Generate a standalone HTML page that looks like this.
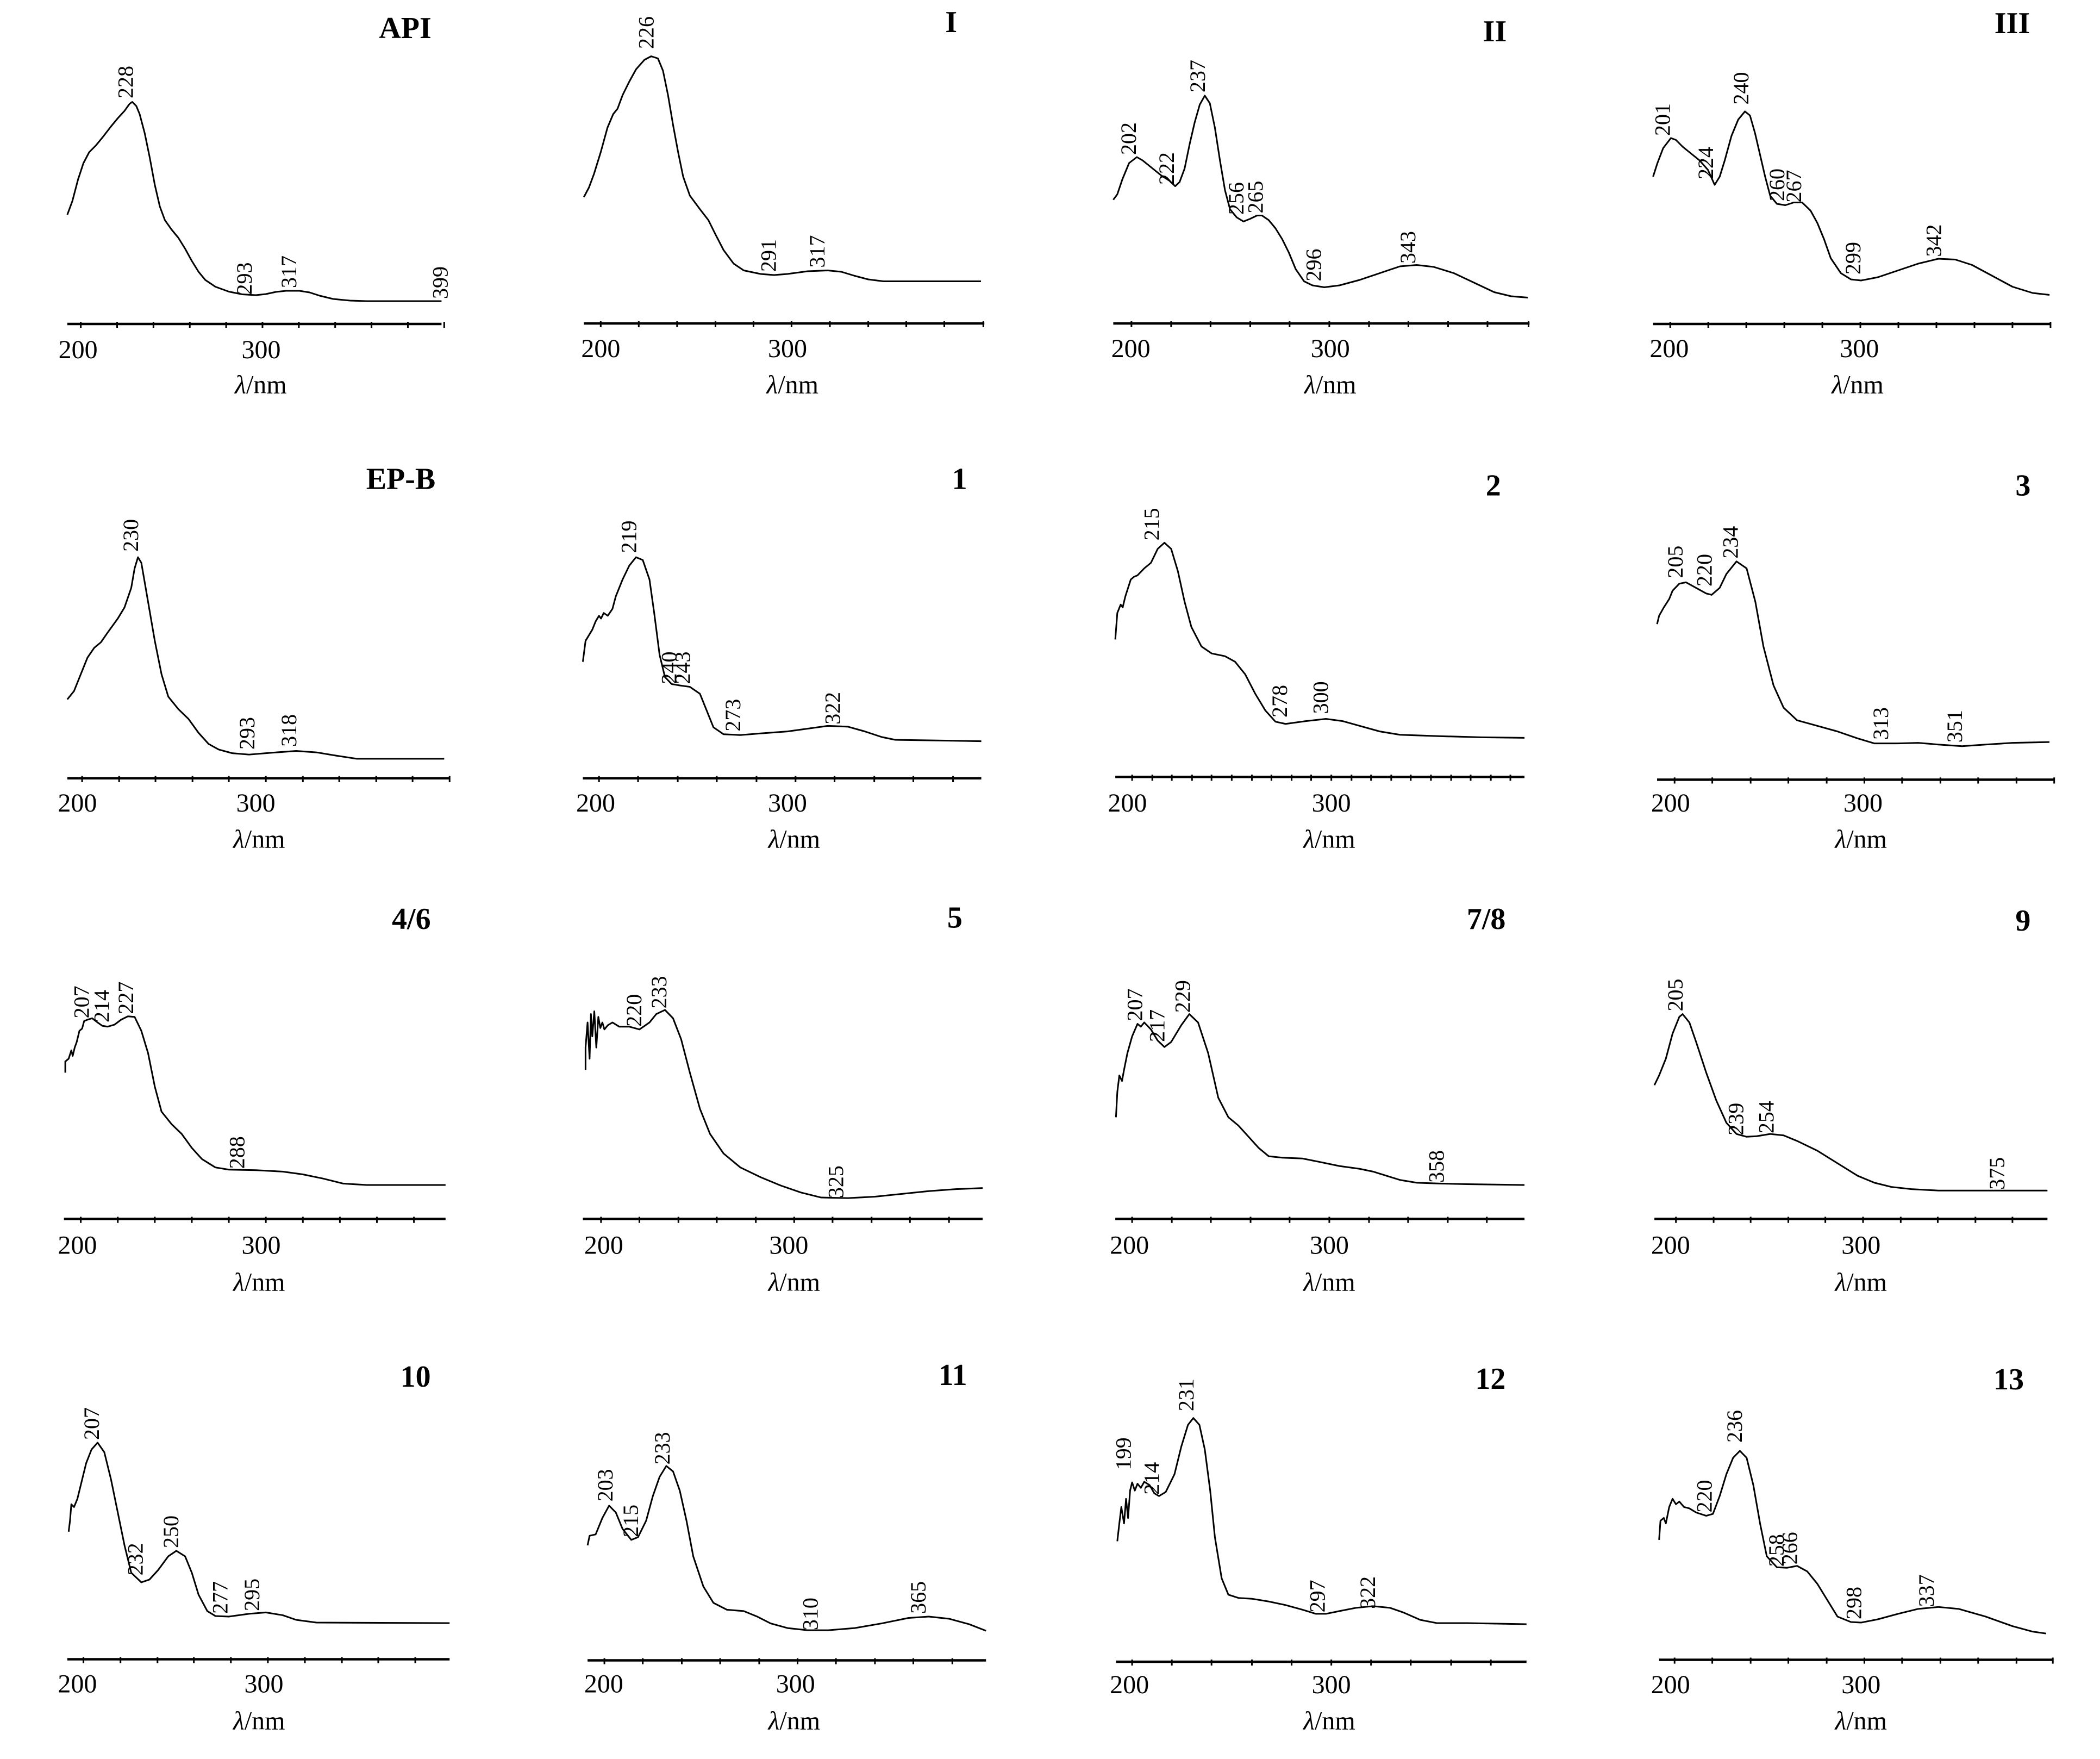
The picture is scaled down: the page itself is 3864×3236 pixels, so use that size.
<!DOCTYPE html>
<html><head><meta charset="utf-8"><style>
html,body{margin:0;padding:0;background:#fff;}
svg{display:block;}
.c{fill:none;stroke:#000;stroke-width:3;stroke-linejoin:round;vector-effect:non-scaling-stroke;}
.a{fill:none;stroke:#000;stroke-width:4.5;vector-effect:non-scaling-stroke;}
.k{fill:none;stroke:#000;stroke-width:3;vector-effect:non-scaling-stroke;}
.p{font-family:"Liberation Serif",serif;font-size:40px;fill:#000;}
.t{font-family:"Liberation Serif",serif;font-size:48px;fill:#000;text-anchor:middle;}
.h{font-family:"Liberation Serif",serif;font-size:56px;font-weight:bold;fill:#000;text-anchor:end;}
</style></head><body>
<svg width="3864" height="3236" viewBox="0 0 3864 3236" xmlns="http://www.w3.org/2000/svg">
<rect width="3864" height="3236" fill="#fff"/>

<!-- ROW 1 -->
<!-- API -->
<g transform="translate(0,0) scale(0.6192,0.5)">
<line class="a" x1="200" y1="1192" x2="1312" y2="1192"/>
<path class="k" d="M240,1184V1206M348,1184V1206M456,1184V1206M564,1184V1206M672,1184V1206M780,1184V1206M888,1184V1206M996,1184V1206M1104,1184V1206M1212,1184V1206M1320,1184V1206"/>
<polyline class="c" points="200,790 215,740 232,660 248,600 265,560 285,535 305,505 330,465 350,435 370,408 385,382 393,375 405,390 415,420 430,490 445,580 460,680 475,760 490,810 510,845 530,875 550,915 570,960 590,1000 610,1030 640,1055 680,1073 720,1083 760,1086 790,1082 820,1074 850,1070 890,1070 920,1076 950,1088 990,1100 1040,1106 1090,1108 1312,1108"/>
<text class="p" transform="translate(395,362) scale(1.615,2) rotate(-90)">228</text>
<text class="p" transform="translate(748,1085) scale(1.615,2) rotate(-90)">293</text>
<text class="p" transform="translate(880,1060) scale(1.615,2) rotate(-90)">317</text>
<text class="p" transform="translate(1330,1100) scale(1.615,2) rotate(-90)">399</text>
<text class="t" transform="translate(232,1318) scale(1.615,2)">200</text>
<text class="t" transform="translate(776,1318) scale(1.615,2)">300</text>
<text class="t" transform="translate(775,1447) scale(1.615,2)"><tspan font-style="italic">λ</tspan>/nm</text>
<text class="h" transform="translate(1282,140) scale(1.615,2)">API</text>
</g>

<!-- I -->
<g transform="translate(966,0) scale(0.6192,0.5)">
<line class="a" x1="175" y1="1190" x2="1365" y2="1190"/>
<path class="k" d="M225,1182V1204M338,1182V1204M452,1182V1204M566,1182V1204M679,1182V1204M792,1182V1204M906,1182V1204M1020,1182V1204M1133,1182V1204M1246,1182V1204M1362,1182V1204"/>
<polyline class="c" points="175,725 190,690 205,640 225,560 245,470 262,420 275,400 290,350 310,300 330,255 355,220 375,207 395,215 410,260 425,350 440,460 455,560 470,650 490,720 520,770 545,810 565,860 590,920 620,970 650,995 700,1008 740,1012 780,1008 840,998 900,995 940,1000 980,1015 1020,1028 1065,1035 1355,1035"/>
<text class="p" transform="translate(382,180) scale(1.615,2) rotate(-90)">226</text>
<text class="p" transform="translate(745,1000) scale(1.615,2) rotate(-90)">291</text>
<text class="p" transform="translate(890,985) scale(1.615,2) rotate(-90)">317</text>
<text class="t" transform="translate(225,1314) scale(1.615,2)">200</text>
<text class="t" transform="translate(780,1314) scale(1.615,2)">300</text>
<text class="t" transform="translate(795,1447) scale(1.615,2)"><tspan font-style="italic">λ</tspan>/nm</text>
<text class="h" transform="translate(1284,118) scale(1.615,2)">I</text>
</g>

<!-- II -->
<g transform="translate(1932,0) scale(0.6192,0.5)">
<line class="a" x1="188" y1="1190" x2="1425" y2="1190"/>
<path class="k" d="M242,1182V1204M360,1182V1204M477,1182V1204M595,1182V1204M712,1182V1204M830,1182V1204M948,1182V1204M1065,1182V1204M1183,1182V1204M1300,1182V1204M1422,1182V1204"/>
<polyline class="c" points="188,735 200,715 215,660 235,600 258,578 275,590 300,615 330,645 355,665 372,685 385,670 400,620 415,530 430,450 445,385 460,352 475,380 490,470 505,590 520,700 535,770 555,800 575,815 595,805 615,793 630,793 650,810 670,840 690,880 710,930 730,990 755,1035 780,1050 815,1057 860,1050 920,1030 980,1005 1040,980 1090,975 1140,982 1200,1005 1260,1040 1320,1075 1370,1090 1420,1095"/>
<text class="p" transform="translate(255,570) scale(1.615,2) rotate(-90)">202</text>
<text class="p" transform="translate(368,680) scale(1.615,2) rotate(-90)">222</text>
<text class="p" transform="translate(460,340) scale(1.615,2) rotate(-90)">237</text>
<text class="p" transform="translate(575,790) scale(1.615,2) rotate(-90)">256</text>
<text class="p" transform="translate(632,785) scale(1.615,2) rotate(-90)">265</text>
<text class="p" transform="translate(805,1035) scale(1.615,2) rotate(-90)">296</text>
<text class="p" transform="translate(1085,970) scale(1.615,2) rotate(-90)">343</text>
<text class="t" transform="translate(240,1314) scale(1.615,2)">200</text>
<text class="t" transform="translate(833,1314) scale(1.615,2)">300</text>
<text class="t" transform="translate(833,1447) scale(1.615,2)"><tspan font-style="italic">λ</tspan>/nm</text>
<text class="h" transform="translate(1357,152) scale(1.615,2)">II</text>
</g>

<!-- III -->
<g transform="translate(2898,0) scale(0.6192,0.5)">
<line class="a" x1="232" y1="1192" x2="1415" y2="1192"/>
<path class="k" d="M283,1184V1206M396,1184V1206M509,1184V1206M622,1184V1206M735,1184V1206M848,1184V1206M961,1184V1206M1074,1184V1206M1187,1184V1206M1300,1184V1206M1413,1184V1206"/>
<polyline class="c" points="232,650 245,600 262,545 285,508 300,515 320,540 345,565 370,590 395,625 415,680 430,650 445,590 465,500 485,440 505,410 520,425 535,490 550,570 565,650 580,720 600,750 625,755 650,745 675,745 700,775 720,820 740,880 760,950 790,1005 820,1028 850,1032 900,1020 960,995 1020,970 1080,952 1130,955 1180,975 1240,1015 1300,1055 1360,1078 1410,1085"/>
<text class="p" transform="translate(282,500) scale(1.615,2) rotate(-90)">201</text>
<text class="p" transform="translate(410,660) scale(1.615,2) rotate(-90)">224</text>
<text class="p" transform="translate(515,385) scale(1.615,2) rotate(-90)">240</text>
<text class="p" transform="translate(622,740) scale(1.615,2) rotate(-90)">260</text>
<text class="p" transform="translate(672,745) scale(1.615,2) rotate(-90)">267</text>
<text class="p" transform="translate(848,1010) scale(1.615,2) rotate(-90)">299</text>
<text class="p" transform="translate(1088,945) scale(1.615,2) rotate(-90)">342</text>
<text class="t" transform="translate(280,1314) scale(1.615,2)">200</text>
<text class="t" transform="translate(845,1314) scale(1.615,2)">300</text>
<text class="t" transform="translate(840,1447) scale(1.615,2)"><tspan font-style="italic">λ</tspan>/nm</text>
<text class="h" transform="translate(1352,122) scale(1.615,2)">III</text>
</g>

<!-- ROW 2 left -->
<g transform="translate(0,820) scale(1.2384,0.5128)">
<!-- EP-B -->
<line class="a" x1="100" y1="1193" x2="668" y2="1193"/>
<path class="k" d="M122,1185V1207M177,1185V1207M231,1185V1207M286,1185V1207M340,1185V1207M395,1185V1207M450,1185V1207M504,1185V1207M559,1185V1207M613,1185V1207M668,1185V1207"/>
<polyline class="c" points="100,910 110,880 120,820 130,760 140,725 150,705 160,670 175,620 185,580 195,510 200,440 205,400 210,420 220,560 230,700 240,820 250,900 265,945 280,980 295,1030 310,1070 325,1090 345,1103 370,1108 400,1102 440,1095 470,1100 500,1112 530,1123 660,1123"/>
<text class="p" transform="translate(205,380) scale(0.8075,1.95) rotate(-90)">230</text>
<text class="p" transform="translate(378,1090) scale(0.8075,1.95) rotate(-90)">293</text>
<text class="p" transform="translate(440,1080) scale(0.8075,1.95) rotate(-90)">318</text>
<text class="t" transform="translate(115,1312) scale(0.8075,1.95)">200</text>
<text class="t" transform="translate(380,1312) scale(0.8075,1.95)">300</text>
<text class="t" transform="translate(385,1442) scale(0.8075,1.95)"><tspan font-style="italic">λ</tspan>/nm</text>
<text class="h" transform="translate(647,155) scale(0.8075,1.95)">EP-B</text>

<!-- 1 -->
<line class="a" x1="866" y1="1193" x2="1458" y2="1193"/>
<path class="k" d="M890,1185V1207M948,1185V1207M1007,1185V1207M1065,1185V1207M1124,1185V1207M1182,1185V1207M1240,1185V1207M1299,1185V1207M1357,1185V1207M1416,1185V1207"/>
<polyline class="c" points="866,775 870,700 875,680 880,660 885,630 890,610 893,620 897,600 903,610 910,585 915,540 925,480 935,430 945,400 955,410 965,480 972,600 980,750 988,830 998,855 1010,860 1025,865 1040,890 1050,950 1060,1010 1075,1035 1100,1038 1130,1032 1170,1025 1200,1015 1230,1005 1260,1008 1285,1025 1310,1045 1330,1055 1380,1057 1458,1060"/>
<text class="p" transform="translate(945,385) scale(0.8075,1.95) rotate(-90)">219</text>
<text class="p" transform="translate(1005,855) scale(0.8075,1.95) rotate(-90)">240</text>
<text class="p" transform="translate(1025,855) scale(0.8075,1.95) rotate(-90)">243</text>
<text class="p" transform="translate(1100,1025) scale(0.8075,1.95) rotate(-90)">273</text>
<text class="p" transform="translate(1248,1000) scale(0.8075,1.95) rotate(-90)">322</text>
<text class="t" transform="translate(885,1312) scale(0.8075,1.95)">200</text>
<text class="t" transform="translate(1170,1312) scale(0.8075,1.95)">300</text>
<text class="t" transform="translate(1180,1442) scale(0.8075,1.95)"><tspan font-style="italic">λ</tspan>/nm</text>
<text class="h" transform="translate(1437,155) scale(0.8075,1.95)">1</text>
</g>

<!-- ROW 2 right -->
<g transform="translate(1932,820) scale(1.2384,0.5128)">
<!-- 2 -->
<line class="a" x1="97" y1="1188" x2="705" y2="1188"/>
<path class="k" d="M122,1180V1202M152,1180V1202M181,1180V1202M211,1180V1202M240,1180V1202M270,1180V1202M300,1180V1202M329,1180V1202M359,1180V1202M388,1180V1202M418,1180V1202M448,1180V1202M477,1180V1202M507,1180V1202M536,1180V1202M566,1180V1202M596,1180V1202M625,1180V1202M655,1180V1202M684,1180V1202"/>
<polyline class="c" points="97,695 100,600 105,570 108,580 112,540 120,480 125,470 130,465 140,440 150,420 160,370 170,348 180,370 190,450 200,560 210,650 225,720 240,745 260,755 275,775 290,820 305,890 320,950 335,990 350,998 380,988 410,980 435,988 460,1005 490,1025 520,1037 580,1042 640,1046 705,1048"/>
<text class="p" transform="translate(162,340) scale(0.8075,1.95) rotate(-90)">215</text>
<text class="p" transform="translate(352,975) scale(0.8075,1.95) rotate(-90)">278</text>
<text class="p" transform="translate(413,962) scale(0.8075,1.95) rotate(-90)">300</text>
<text class="t" transform="translate(115,1312) scale(0.8075,1.95)">200</text>
<text class="t" transform="translate(418,1312) scale(0.8075,1.95)">300</text>
<text class="t" transform="translate(415,1442) scale(0.8075,1.95)"><tspan font-style="italic">λ</tspan>/nm</text>
<text class="h" transform="translate(670,178) scale(0.8075,1.95)">2</text>

<!-- 3 -->
<line class="a" x1="902" y1="1198" x2="1492" y2="1198"/>
<path class="k" d="M928,1190V1212M984,1190V1212M1041,1190V1212M1097,1190V1212M1154,1190V1212M1210,1190V1212M1266,1190V1212M1323,1190V1212M1379,1190V1212M1436,1190V1212M1492,1190V1212"/>
<polyline class="c" points="902,640 905,610 912,580 920,550 925,520 935,495 945,490 960,510 975,530 983,535 995,510 1005,460 1020,415 1035,440 1048,560 1060,720 1075,860 1090,940 1110,985 1140,1005 1170,1025 1200,1050 1225,1068 1260,1068 1290,1066 1320,1072 1355,1078 1390,1072 1430,1066 1485,1063"/>
<text class="p" transform="translate(940,475) scale(0.8075,1.95) rotate(-90)">205</text>
<text class="p" transform="translate(983,505) scale(0.8075,1.95) rotate(-90)">220</text>
<text class="p" transform="translate(1022,405) scale(0.8075,1.95) rotate(-90)">234</text>
<text class="p" transform="translate(1245,1055) scale(0.8075,1.95) rotate(-90)">313</text>
<text class="p" transform="translate(1355,1065) scale(0.8075,1.95) rotate(-90)">351</text>
<text class="t" transform="translate(922,1312) scale(0.8075,1.95)">200</text>
<text class="t" transform="translate(1208,1312) scale(0.8075,1.95)">300</text>
<text class="t" transform="translate(1205,1442) scale(0.8075,1.95)"><tspan font-style="italic">λ</tspan>/nm</text>
<text class="h" transform="translate(1457,178) scale(0.8075,1.95)">3</text>
</g>

<!-- ROW 3 left -->
<g transform="translate(0,1640) scale(1.2384,0.5128)">
<!-- 4/6 -->
<line class="a" x1="95" y1="1175" x2="662" y2="1175"/>
<path class="k" d="M120,1167V1189M175,1167V1189M230,1167V1189M285,1167V1189M340,1167V1189M395,1167V1189M450,1167V1189M505,1167V1189M560,1167V1189M615,1167V1189"/>
<polyline class="c" points="97,650 97,610 102,600 106,570 108,590 111,560 114,540 118,500 122,492 125,465 130,460 137,455 145,470 152,482 160,485 170,478 180,460 190,448 200,450 210,500 220,580 230,700 240,790 255,835 270,870 285,920 300,960 320,990 340,998 380,1000 420,1005 450,1015 480,1030 510,1048 545,1053 662,1053"/>
<text class="p" transform="translate(132,455) scale(0.8075,1.95) rotate(-90)">207</text>
<text class="p" transform="translate(162,470) scale(0.8075,1.95) rotate(-90)">214</text>
<text class="p" transform="translate(198,440) scale(0.8075,1.95) rotate(-90)">227</text>
<text class="p" transform="translate(363,995) scale(0.8075,1.95) rotate(-90)">288</text>
<text class="t" transform="translate(115,1300) scale(0.8075,1.95)">200</text>
<text class="t" transform="translate(388,1300) scale(0.8075,1.95)">300</text>
<text class="t" transform="translate(385,1432) scale(0.8075,1.95)"><tspan font-style="italic">λ</tspan>/nm</text>
<text class="h" transform="translate(640,135) scale(0.8075,1.95)">4/6</text>

<!-- 5 -->
<line class="a" x1="866" y1="1175" x2="1460" y2="1175"/>
<path class="k" d="M893,1167V1189M950,1167V1189M1008,1167V1189M1065,1167V1189M1123,1167V1189M1180,1167V1189M1237,1167V1189M1295,1167V1189M1352,1167V1189M1410,1167V1189"/>
<polyline class="c" points="870,640 870,560 873,470 876,600 878,440 880,520 883,430 886,560 889,450 892,490 895,470 898,495 903,480 910,470 920,485 935,485 950,495 965,470 975,440 988,425 1000,455 1012,530 1025,650 1040,780 1055,870 1075,940 1100,990 1130,1025 1160,1055 1190,1080 1220,1098 1260,1100 1300,1095 1340,1085 1380,1075 1420,1068 1460,1064"/>
<text class="p" transform="translate(953,485) scale(0.8075,1.95) rotate(-90)">220</text>
<text class="p" transform="translate(990,420) scale(0.8075,1.95) rotate(-90)">233</text>
<text class="p" transform="translate(1253,1100) scale(0.8075,1.95) rotate(-90)">325</text>
<text class="t" transform="translate(897,1300) scale(0.8075,1.95)">200</text>
<text class="t" transform="translate(1172,1300) scale(0.8075,1.95)">300</text>
<text class="t" transform="translate(1180,1432) scale(0.8075,1.95)"><tspan font-style="italic">λ</tspan>/nm</text>
<text class="h" transform="translate(1430,130) scale(0.8075,1.95)">5</text>
</g>

<!-- ROW 3 right -->
<g transform="translate(1932,1640) scale(1.2384,0.5128)">
<!-- 7/8 -->
<line class="a" x1="97" y1="1175" x2="705" y2="1175"/>
<path class="k" d="M122,1167V1189M181,1167V1189M239,1167V1189M298,1167V1189M356,1167V1189M415,1167V1189M474,1167V1189M532,1167V1189M591,1167V1189M649,1167V1189"/>
<polyline class="c" points="98,810 100,720 103,660 107,680 110,640 115,580 122,520 130,475 135,485 140,470 150,495 160,535 170,558 180,540 195,480 207,440 220,470 235,580 250,740 265,810 280,840 295,880 310,920 325,950 345,955 375,958 400,970 430,985 460,995 480,1005 500,1020 520,1035 545,1045 580,1048 620,1050 705,1053"/>
<text class="p" transform="translate(137,465) scale(0.8075,1.95) rotate(-90)">207</text>
<text class="p" transform="translate(170,540) scale(0.8075,1.95) rotate(-90)">217</text>
<text class="p" transform="translate(208,435) scale(0.8075,1.95) rotate(-90)">229</text>
<text class="p" transform="translate(585,1045) scale(0.8075,1.95) rotate(-90)">358</text>
<text class="t" transform="translate(118,1300) scale(0.8075,1.95)">200</text>
<text class="t" transform="translate(415,1300) scale(0.8075,1.95)">300</text>
<text class="t" transform="translate(415,1432) scale(0.8075,1.95)"><tspan font-style="italic">λ</tspan>/nm</text>
<text class="h" transform="translate(677,135) scale(0.8075,1.95)">7/8</text>

<!-- 9 -->
<line class="a" x1="898" y1="1175" x2="1482" y2="1175"/>
<path class="k" d="M930,1167V1189M986,1167V1189M1041,1167V1189M1097,1167V1189M1152,1167V1189M1208,1167V1189M1264,1167V1189M1319,1167V1189M1375,1167V1189M1430,1167V1189"/>
<polyline class="c" points="898,695 905,660 915,600 925,510 935,450 940,440 950,470 960,540 975,650 990,750 1005,830 1020,870 1035,880 1050,878 1070,870 1090,875 1110,895 1140,930 1170,975 1200,1020 1225,1045 1250,1060 1280,1068 1320,1073 1400,1073 1482,1073"/>
<text class="p" transform="translate(940,430) scale(0.8075,1.95) rotate(-90)">205</text>
<text class="p" transform="translate(1030,875) scale(0.8075,1.95) rotate(-90)">239</text>
<text class="p" transform="translate(1075,868) scale(0.8075,1.95) rotate(-90)">254</text>
<text class="p" transform="translate(1418,1070) scale(0.8075,1.95) rotate(-90)">375</text>
<text class="t" transform="translate(922,1300) scale(0.8075,1.95)">200</text>
<text class="t" transform="translate(1205,1300) scale(0.8075,1.95)">300</text>
<text class="t" transform="translate(1205,1432) scale(0.8075,1.95)"><tspan font-style="italic">λ</tspan>/nm</text>
<text class="h" transform="translate(1457,140) scale(0.8075,1.95)">9</text>
</g>

<!-- ROW 4 left -->
<g transform="translate(0,2450) scale(1.2384,0.5038)">
<!-- 10 -->
<line class="a" x1="100" y1="1196" x2="668" y2="1196"/>
<path class="k" d="M124,1188V1210M179,1188V1210M234,1188V1210M288,1188V1210M343,1188V1210M398,1188V1210M453,1188V1210M508,1188V1210M562,1188V1210M617,1188V1210"/>
<polyline class="c" points="102,730 104,690 106,630 110,640 115,610 120,560 128,480 136,430 145,405 155,440 165,540 175,660 185,780 195,880 210,915 222,905 235,870 250,820 262,800 275,820 285,880 295,960 308,1020 320,1038 340,1040 370,1030 395,1025 420,1035 440,1052 470,1062 668,1064"/>
<text class="p" transform="translate(147,395) scale(0.8075,1.985) rotate(-90)">207</text>
<text class="p" transform="translate(212,890) scale(0.8075,1.985) rotate(-90)">232</text>
<text class="p" transform="translate(265,790) scale(0.8075,1.985) rotate(-90)">250</text>
<text class="p" transform="translate(338,1030) scale(0.8075,1.985) rotate(-90)">277</text>
<text class="p" transform="translate(385,1020) scale(0.8075,1.985) rotate(-90)">295</text>
<text class="t" transform="translate(115,1317) scale(0.8075,1.985)">200</text>
<text class="t" transform="translate(392,1317) scale(0.8075,1.985)">300</text>
<text class="t" transform="translate(385,1452) scale(0.8075,1.985)"><tspan font-style="italic">λ</tspan>/nm</text>
<text class="h" transform="translate(640,200) scale(0.8075,1.985)">10</text>

<!-- 11 -->
<line class="a" x1="873" y1="1200" x2="1465" y2="1200"/>
<path class="k" d="M898,1192V1214M955,1192V1214M1013,1192V1214M1070,1192V1214M1128,1192V1214M1185,1192V1214M1242,1192V1214M1300,1192V1214M1357,1192V1214M1415,1192V1214"/>
<polyline class="c" points="873,780 876,745 885,740 895,680 905,635 915,660 925,720 938,760 948,750 960,690 970,600 980,530 990,490 1000,510 1010,580 1020,690 1030,820 1045,930 1060,990 1080,1015 1105,1020 1125,1040 1145,1065 1170,1082 1200,1090 1230,1090 1270,1082 1310,1065 1350,1045 1380,1040 1410,1048 1440,1068 1465,1092"/>
<text class="p" transform="translate(910,620) scale(0.8075,1.985) rotate(-90)">203</text>
<text class="p" transform="translate(948,750) scale(0.8075,1.985) rotate(-90)">215</text>
<text class="p" transform="translate(995,485) scale(0.8075,1.985) rotate(-90)">233</text>
<text class="p" transform="translate(1215,1090) scale(0.8075,1.985) rotate(-90)">310</text>
<text class="p" transform="translate(1375,1030) scale(0.8075,1.985) rotate(-90)">365</text>
<text class="t" transform="translate(897,1317) scale(0.8075,1.985)">200</text>
<text class="t" transform="translate(1182,1317) scale(0.8075,1.985)">300</text>
<text class="t" transform="translate(1180,1452) scale(0.8075,1.985)"><tspan font-style="italic">λ</tspan>/nm</text>
<text class="h" transform="translate(1437,195) scale(0.8075,1.985)">11</text>
</g>

<!-- ROW 4 right -->
<g transform="translate(1932,2450) scale(1.2384,0.5038)">
<!-- 12 -->
<line class="a" x1="98" y1="1205" x2="708" y2="1205"/>
<path class="k" d="M122,1197V1219M181,1197V1219M240,1197V1219M300,1197V1219M359,1197V1219M418,1197V1219M477,1197V1219M536,1197V1219M596,1197V1219M655,1197V1219"/>
<polyline class="c" points="100,765 103,700 106,640 110,700 113,610 116,680 119,580 122,550 126,580 130,555 135,570 140,548 148,560 155,590 162,600 172,585 185,520 195,420 205,340 213,315 222,340 230,430 238,580 245,750 255,900 265,960 280,972 300,975 325,985 350,998 375,1015 395,1030 410,1030 430,1020 455,1008 480,1002 505,1008 525,1025 550,1052 575,1064 620,1064 708,1068"/>
<text class="p" transform="translate(120,505) scale(0.8075,1.985) rotate(-90)">199</text>
<text class="p" transform="translate(162,595) scale(0.8075,1.985) rotate(-90)">214</text>
<text class="p" transform="translate(213,290) scale(0.8075,1.985) rotate(-90)">231</text>
<text class="p" transform="translate(408,1025) scale(0.8075,1.985) rotate(-90)">297</text>
<text class="p" transform="translate(483,1012) scale(0.8075,1.985) rotate(-90)">322</text>
<text class="t" transform="translate(118,1320) scale(0.8075,1.985)">200</text>
<text class="t" transform="translate(418,1320) scale(0.8075,1.985)">300</text>
<text class="t" transform="translate(415,1452) scale(0.8075,1.985)"><tspan font-style="italic">λ</tspan>/nm</text>
<text class="h" transform="translate(677,208) scale(0.8075,1.985)">12</text>

<!-- 13 -->
<line class="a" x1="905" y1="1198" x2="1490" y2="1198"/>
<path class="k" d="M928,1190V1212M984,1190V1212M1041,1190V1212M1097,1190V1212M1154,1190V1212M1210,1190V1212M1266,1190V1212M1323,1190V1212M1379,1190V1212M1436,1190V1212M1490,1190V1212"/>
<polyline class="c" points="905,760 907,690 912,680 915,700 920,640 925,610 930,630 935,620 942,640 950,645 960,660 975,672 985,665 995,600 1005,520 1015,460 1025,435 1035,460 1045,560 1055,700 1065,820 1080,860 1095,862 1110,855 1125,875 1140,920 1155,980 1170,1040 1190,1060 1205,1062 1230,1050 1260,1030 1290,1012 1320,1005 1350,1012 1390,1040 1430,1075 1460,1095 1480,1102"/>
<text class="p" transform="translate(983,660) scale(0.8075,1.985) rotate(-90)">220</text>
<text class="p" transform="translate(1028,405) scale(0.8075,1.985) rotate(-90)">236</text>
<text class="p" transform="translate(1090,858) scale(0.8075,1.985) rotate(-90)">258</text>
<text class="p" transform="translate(1110,850) scale(0.8075,1.985) rotate(-90)">266</text>
<text class="p" transform="translate(1205,1050) scale(0.8075,1.985) rotate(-90)">298</text>
<text class="p" transform="translate(1313,1005) scale(0.8075,1.985) rotate(-90)">337</text>
<text class="t" transform="translate(922,1320) scale(0.8075,1.985)">200</text>
<text class="t" transform="translate(1205,1320) scale(0.8075,1.985)">300</text>
<text class="t" transform="translate(1205,1452) scale(0.8075,1.985)"><tspan font-style="italic">λ</tspan>/nm</text>
<text class="h" transform="translate(1447,210) scale(0.8075,1.985)">13</text>
</g>
</svg>
</body></html>
